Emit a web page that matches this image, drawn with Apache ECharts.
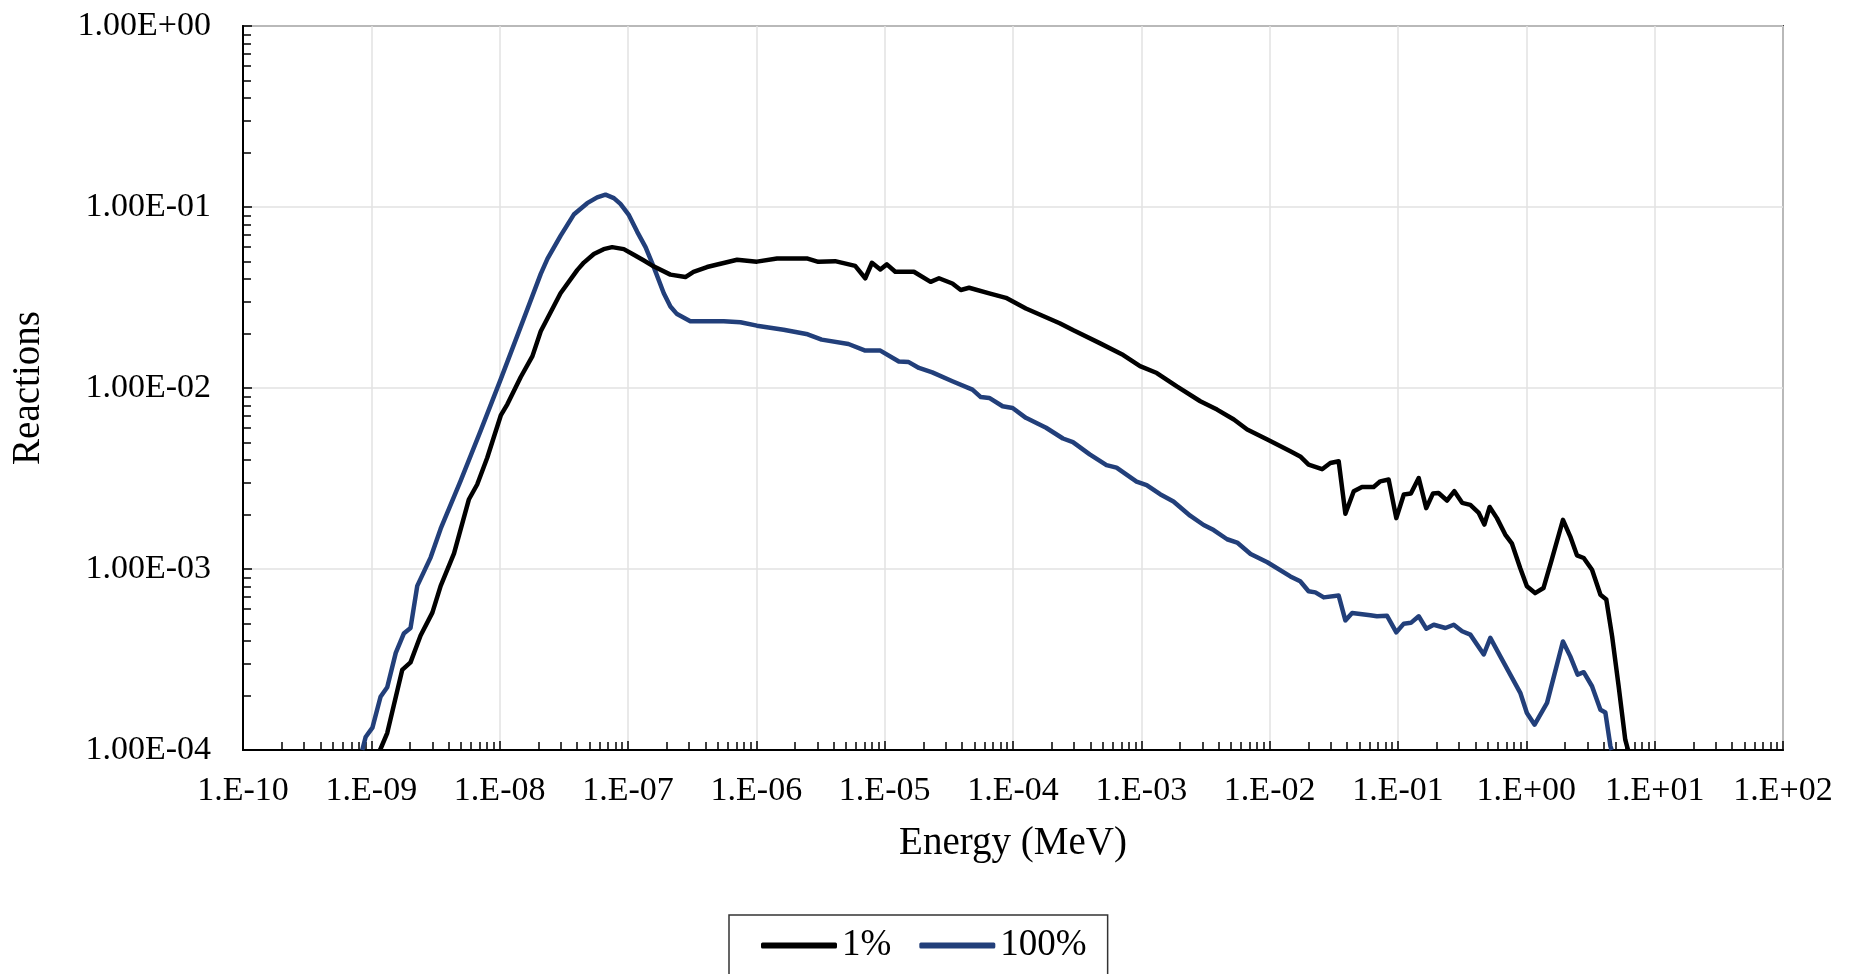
<!DOCTYPE html>
<html>
<head>
<meta charset="utf-8">
<script src="https://cdn.jsdelivr.net/npm/echarts@6/dist/echarts.min.js"></script>
<style>
html,body{margin:0;padding:0;background:#fff;}
#chart{width:1858px;height:974px;}
</style>
</head>
<body>
<div id="chart"></div>
<script>
// Series names
const seriesNames = ['1%', '100%'];

// 1% series: energy (MeV) and reactions
const energy1 = [1.17e-9,1.33e-9,1.74e-9,2.02e-9,2.42e-9,2.99e-9,3.47e-9,4.41e-9,5.75e-9,6.68e-9,8.0e-9,1.02e-8,1.15e-8,1.46e-8,1.80e-8,2.09e-8,2.98e-8,4.02e-8,4.53e-8,5.42e-8,6.46e-8,7.52e-8,9.27e-8,1.11e-7,1.33e-7,1.58e-7,2.14e-7,2.80e-7,3.24e-7,4.13e-7,7.08e-7,1.01e-6,1.45e-6,2.51e-6,3.04e-6,4.11e-6,5.89e-6,7.06e-6,7.96e-6,9.25e-6,1.04e-5,1.21e-5,1.69e-5,2.28e-5,2.65e-5,3.37e-5,3.92e-5,4.55e-5,6.53e-5,8.81e-5,1.26e-4,2.31e-4,2.93e-4,4.74e-4,7.23e-4,9.77e-4,1.32e-3,1.89e-3,2.88e-3,3.89e-3,5.26e-3,6.68e-3,9.59e-3,1.45e-2,1.73e-2,2.01e-2,2.56e-2,2.97e-2,3.45e-2,3.89e-2,4.52e-2,5.24e-2,6.46e-2,7.28e-2,8.45e-2,9.70e-2,0.111,0.126,0.145,0.166,0.187,0.207,0.241,0.275,0.316,0.366,0.426,0.471,0.518,0.590,0.685,0.773,0.897,1.01,1.17,1.36,1.58,1.93,2.20,2.48,2.80,3.25,3.78,4.20,4.66,5.24,5.90,6.2];
const react1 = [1.0e-4,1.24e-4,2.77e-4,3.05e-4,4.29e-4,5.74e-4,8.07e-4,1.22e-3,2.42e-3,2.93e-3,4.12e-3,7.05e-3,8.15e-3,1.15e-2,1.50e-2,2.06e-2,3.34e-2,4.48e-2,4.93e-2,5.50e-2,5.85e-2,6.0e-2,5.85e-2,5.45e-2,5.06e-2,4.70e-2,4.23e-2,4.10e-2,4.38e-2,4.66e-2,5.11e-2,4.99e-2,5.19e-2,5.19e-2,4.98e-2,5.02e-2,4.73e-2,4.04e-2,4.92e-2,4.52e-2,4.82e-2,4.39e-2,4.39e-2,3.86e-2,4.04e-2,3.78e-2,3.48e-2,3.58e-2,3.33e-2,3.15e-2,2.75e-2,2.28e-2,2.09e-2,1.77e-2,1.52e-2,1.32e-2,1.21e-2,1.02e-2,8.45e-3,7.60e-3,6.70e-3,5.90e-3,5.20e-3,4.47e-3,4.19e-3,3.77e-3,3.56e-3,3.85e-3,3.94e-3,2.02e-3,2.69e-3,2.84e-3,2.84e-3,3.05e-3,3.12e-3,1.91e-3,2.58e-3,2.61e-3,3.18e-3,2.17e-3,2.61e-3,2.63e-3,2.39e-3,2.69e-3,2.32e-3,2.26e-3,2.04e-3,1.76e-3,2.20e-3,1.91e-3,1.55e-3,1.38e-3,1.01e-3,8.02e-4,7.36e-4,7.85e-4,1.13e-3,1.87e-3,1.51e-3,1.19e-3,1.15e-3,9.91e-4,7.21e-4,6.78e-4,4.25e-4,2.25e-4,1.14e-4,1.0e-4];

// 100% series: energy (MeV) and reactions
const energy100 = [8.5e-10,9.03e-10,1.02e-9,1.18e-9,1.33e-9,1.55e-9,1.79e-9,2.02e-9,2.28e-9,2.90e-9,3.47e-9,4.97e-9,7.10e-9,1.02e-8,1.55e-8,2.09e-8,2.36e-8,2.98e-8,3.78e-8,4.81e-8,5.75e-8,6.68e-8,7.76e-8,8.73e-8,1.01e-7,1.18e-7,1.37e-7,1.58e-7,1.90e-7,2.14e-7,2.41e-7,3.06e-7,5.57e-7,7.52e-7,1.01e-6,1.63e-6,2.51e-6,3.23e-6,5.22e-6,7.06e-6,9.25e-6,1.29e-5,1.54e-5,1.85e-5,2.35e-5,3.37e-5,4.83e-5,5.61e-5,6.53e-5,8.30e-5,9.93e-5,1.26e-4,1.81e-4,2.45e-4,2.93e-4,3.96e-4,5.35e-4,6.41e-4,9.18e-4,1.10e-3,1.40e-3,1.78e-3,2.40e-3,3.06e-3,3.66e-3,4.66e-3,5.58e-3,7.10e-3,9.59e-3,1.45e-2,1.73e-2,2.01e-2,2.27e-2,2.64e-2,3.45e-2,3.89e-2,4.39e-2,6.08e-2,6.85e-2,8.20e-2,9.70e-2,0.111,0.126,0.145,0.166,0.190,0.234,0.272,0.316,0.366,0.466,0.524,0.627,0.750,0.897,1.01,1.16,1.45,1.93,2.20,2.51,2.80,3.25,3.78,4.13,4.52,4.62];
const react100 = [1.0e-4,1.18e-4,1.33e-4,1.97e-4,2.22e-4,3.44e-4,4.40e-4,4.72e-4,8.07e-4,1.16e-3,1.67e-3,3.08e-3,5.79e-3,1.12e-2,2.44e-2,4.27e-2,5.19e-2,6.93e-2,9.08e-2,0.105,0.113,0.117,0.112,0.104,9.08e-2,7.29e-2,6.0e-2,4.70e-2,3.34e-2,2.82e-2,2.56e-2,2.34e-2,2.34e-2,2.31e-2,2.21e-2,2.10e-2,1.98e-2,1.85e-2,1.75e-2,1.61e-2,1.61e-2,1.40e-2,1.39e-2,1.29e-2,1.22e-2,1.09e-2,9.79e-3,8.91e-3,8.81e-3,7.93e-3,7.76e-3,6.84e-3,6.03e-3,5.26e-3,5.02e-3,4.30e-3,3.75e-3,3.63e-3,3.04e-3,2.91e-3,2.59e-3,2.36e-3,1.97e-3,1.75e-3,1.64e-3,1.46e-3,1.40e-3,1.21e-3,1.09e-3,9.10e-4,8.55e-4,7.53e-4,7.43e-4,6.97e-4,7.13e-4,5.20e-4,5.71e-4,5.55e-4,5.48e-4,5.52e-4,4.47e-4,4.99e-4,5.04e-4,5.48e-4,4.68e-4,4.92e-4,4.72e-4,4.92e-4,4.53e-4,4.34e-4,3.37e-4,4.16e-4,3.29e-4,2.61e-4,2.07e-4,1.60e-4,1.38e-4,1.82e-4,3.98e-4,3.29e-4,2.61e-4,2.69e-4,2.25e-4,1.67e-4,1.61e-4,1.05e-4,1.0e-4];

// Axis ranges
const xMin = 1e-10, xMax = 1e2;
const yMin = 1e-4, yMax = 1;

const FONT = 'Liberation Serif';
const zip = (a, b) => a.map((v, i) => [v, b[i]]);
const expOf = v => Math.round(Math.log10(v));
const expStr = e => (e < 0 ? '-' : '+') + String(Math.abs(e)).padStart(2, '0');

const chart = echarts.init(document.getElementById('chart'), null, {renderer: 'canvas'});
chart.setOption({
  backgroundColor: '#ffffff',
  animation: false,
  grid: {
    left: 243, top: 26, width: 1540, height: 724,
    show: true, borderColor: '#404040', borderWidth: 2, backgroundColor: 'transparent'
  },
  legend: {
    data: seriesNames,
    left: 729, top: 915,
    padding: [12, 21, 12, 32],
    itemGap: 28,
    itemWidth: 76, itemHeight: 6,
    icon: 'roundRect',
    borderColor: '#333', borderWidth: 1.5,
    textStyle: {fontFamily: FONT, fontSize: 37, color: '#000'}
  },
  xAxis: {
    type: 'log', logBase: 10, min: xMin, max: xMax, interval: 1,
    name: 'Energy (MeV)', nameLocation: 'middle', nameGap: 74,
    nameTextStyle: {fontFamily: FONT, fontSize: 39, color: '#000'},
    axisLine: {show: true, onZero: false, lineStyle: {color: '#000', width: 2}},
    axisTick: {show: true, inside: true, length: 9, lineStyle: {color: '#000', width: 1.5}},
    minorTick: {show: true, splitNumber: 9, length: 8, lineStyle: {color: '#000', width: 1.5}},
    axisLabel: {fontFamily: FONT, fontSize: 34, color: '#000', margin: 24,
      formatter: v => '1.E' + expStr(expOf(v))},
    splitLine: {show: true, lineStyle: {color: '#e2e2e2', width: 1.5}},
    minorSplitLine: {show: false}
  },
  yAxis: {
    type: 'log', logBase: 10, min: yMin, max: yMax, interval: 1,
    name: 'Reactions', nameLocation: 'middle', nameGap: 195, nameRotate: 90,
    nameTextStyle: {fontFamily: FONT, fontSize: 39, color: '#000'},
    axisLine: {show: true, onZero: false, lineStyle: {color: '#000', width: 2}},
    axisTick: {show: true, inside: true, length: 9, lineStyle: {color: '#000', width: 1.5}},
    minorTick: {show: true, splitNumber: 9, length: 8, lineStyle: {color: '#000', width: 1.5}},
    axisLabel: {fontFamily: FONT, fontSize: 34, color: '#000', margin: 32,
      formatter: v => '1.00E' + expStr(expOf(v))},
    splitLine: {show: true, lineStyle: {color: '#e2e2e2', width: 1.5}},
    minorSplitLine: {show: false}
  },
  series: [
    {
      name: seriesNames[0], type: 'line', data: zip(energy1, react1),
      showSymbol: false, symbol: 'none', clip: true,
      lineStyle: {color: '#000000', width: 4.5, join: 'round'},
      itemStyle: {color: '#000000'}, z: 3
    },
    {
      name: seriesNames[1], type: 'line', data: zip(energy100, react100),
      showSymbol: false, symbol: 'none', clip: true,
      lineStyle: {color: '#223f7a', width: 4.5, join: 'round'},
      itemStyle: {color: '#223f7a'}, z: 2
    }
  ]
});
</script>
</body>
</html>
